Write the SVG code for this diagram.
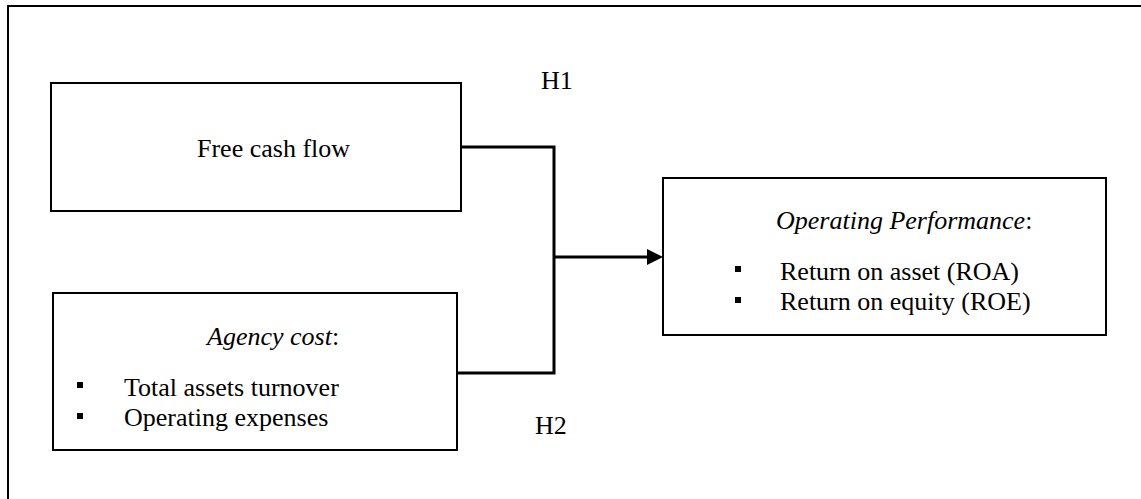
<svg xmlns="http://www.w3.org/2000/svg" width="1141" height="499" viewBox="0 0 1141 499">
  <style>
    .box { fill: #ffffff; stroke: #000000; stroke-width: 2; }
    .frame { fill: #ffffff; stroke: #000000; stroke-width: 2; }
    .conn { fill: none; stroke: #000000; stroke-width: 3; }
    .t { font-family: "Liberation Serif", "Times New Roman", serif; font-size: 26px; fill: #000000; }
    .it { font-style: italic; }
    .bullet { fill: #000000; }
  </style>
  <rect class="frame" x="8" y="6" width="1140" height="500"/>

  <g id="connectors">
    <polyline class="conn" points="461,147 554,147 554,373 457,373"/>
    <line class="conn" x1="554" y1="257" x2="649" y2="257"/>
    <path d="M647,249 L663,257 L647,265 Z" fill="#000000"/>
  </g>

  <g id="node-fcf">
    <rect class="box" x="51" y="83" width="410" height="128"/>
    <text class="t" x="197" y="157">Free cash flow</text>
  </g>

  <g id="node-agency">
    <rect class="box" x="53" y="293" width="404" height="157"/>
    <text class="t" x="207" y="345"><tspan class="it">Agency cost</tspan>:</text>
    <rect class="bullet" x="77" y="382" width="6" height="6"/>
    <text class="t" x="124" y="396">Total assets turnover</text>
    <rect class="bullet" x="77" y="413" width="6" height="6"/>
    <text class="t" x="124" y="426">Operating expenses</text>
  </g>

  <g id="node-op">
    <rect class="box" x="663" y="178" width="443" height="157"/>
    <text class="t" x="776" y="229"><tspan class="it">Operating Performance</tspan>:</text>
    <rect class="bullet" x="735" y="266" width="6" height="6"/>
    <text class="t" x="780" y="280">Return on asset (ROA)</text>
    <rect class="bullet" x="735" y="297" width="6" height="6"/>
    <text class="t" x="780" y="310">Return on equity (ROE)</text>
  </g>

  <g id="label-h1">
    <text class="t" x="541" y="89">H1</text>
  </g>
  <g id="label-h2">
    <text class="t" x="535" y="434">H2</text>
  </g>
</svg>
